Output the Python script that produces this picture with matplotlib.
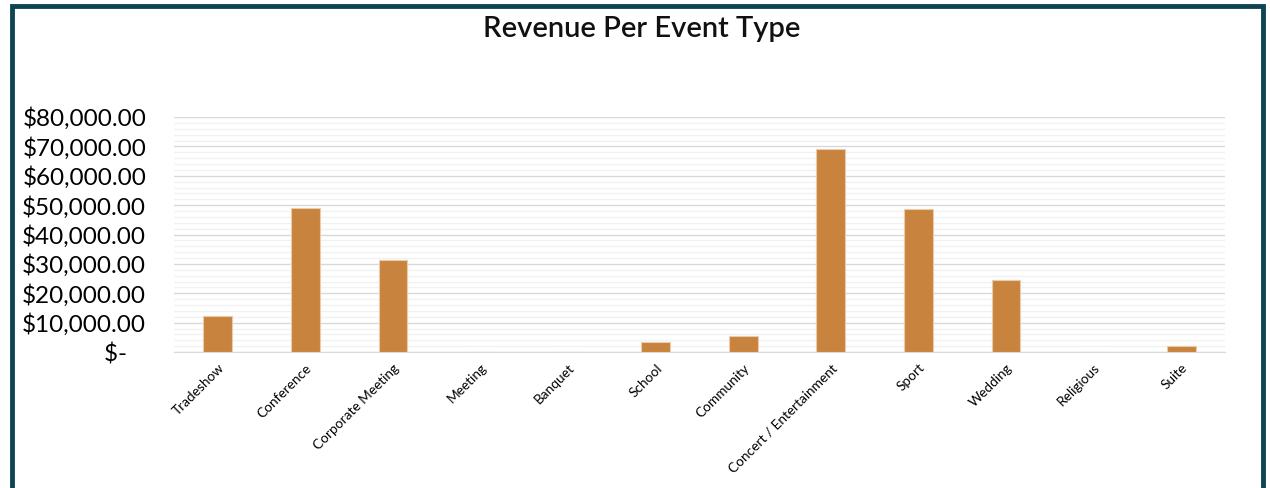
import matplotlib
matplotlib.use('Agg')
import matplotlib.pyplot as plt
from matplotlib.patches import Rectangle
from matplotlib.ticker import FuncFormatter, MultipleLocator

# Datos
tipos_evento = ['Tradeshow', 'Conference', 'Corporate Meeting', 'Meeting', 'Banquet',
                'School', 'Community', 'Concert / Entertainment', 'Sport', 'Wedding',
                'Religious', 'Suite']
ingresos = [12300, 49000, 31300, 0, 0, 3400, 5400, 69000, 48700, 24500, 0, 2000]

plt.rcParams['font.family'] = ['Lato', 'DejaVu Sans']

fig = plt.figure(figsize=(12.7, 4.88), dpi=100)
ax = fig.add_axes([174 / 1270, 1 - 352 / 488, (1225 - 174) / 1270, (352 - 117) / 488])

x = range(len(tipos_evento))
ax.bar(x, ingresos, width=0.33, color='#C8843F', edgecolor='#EBCBA8', linewidth=0.8, zorder=3)

ax.set_ylim(0, 80000)
ax.set_xlim(-0.5, len(tipos_evento) - 0.5)
ax.yaxis.set_major_locator(MultipleLocator(10000))
ax.yaxis.set_minor_locator(MultipleLocator(2000))
# formato contable: el "$-" queda algo separado del borde
ax.yaxis.set_major_formatter(FuncFormatter(lambda v, p: '$-   ' if v == 0 else f'${v:,.2f}'))
ax.grid(axis='y', which='major', color='#D9D9D9', linewidth=1.0, zorder=0)
ax.grid(axis='y', which='minor', color='#F2F2F2', linewidth=1.0, zorder=0)

ax.set_xticks(list(x))
ax.set_xticklabels(tipos_evento, rotation=45, ha='right', rotation_mode='anchor', fontsize=9.8)
ax.tick_params(axis='y', labelsize=17.5, length=0, pad=20)
ax.tick_params(axis='x', length=0, pad=7)
ax.tick_params(axis='y', which='minor', length=0)

for s in ['top', 'right', 'left']:
    ax.spines[s].set_visible(False)
ax.spines['bottom'].set_color('#D9D9D9')

fig.text(642 / 1270, 1 - 29 / 488, 'Revenue Per Event Type', ha='center', va='center',
         fontsize=21, fontweight='semibold', color='#111111')

# Marco exterior
fig.patches.append(Rectangle((12 / 1270, -0.05), (1263 - 12) / 1270, 1 - 6 / 488 + 0.05,
                             transform=fig.transFigure, fill=False,
                             edgecolor='#0F4452', linewidth=3.5))

fig.savefig('out.png', dpi=100, facecolor='white')
